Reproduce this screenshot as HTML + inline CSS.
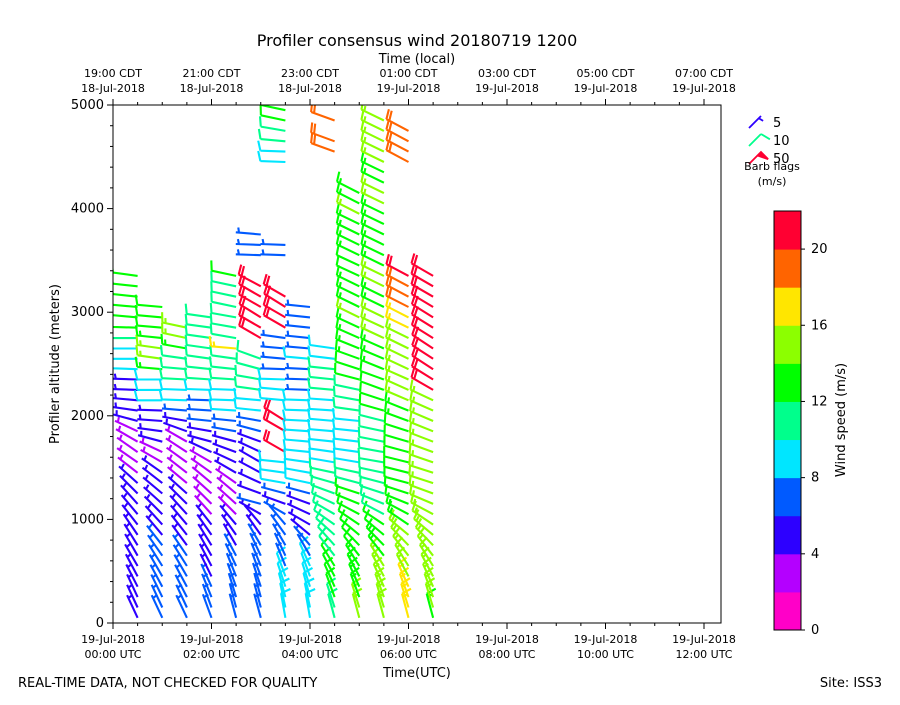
<!DOCTYPE html>
<html><head><meta charset="utf-8">
<style>
body{margin:0;background:#fff;}
svg text{font-family:"DejaVu Sans","Liberation Sans",sans-serif;fill:#000;}
</style></head>
<body>
<svg id="chart" width="900" height="700" viewBox="0 0 900 700" xmlns="http://www.w3.org/2000/svg">
<defs><clipPath id="plotclip"><rect x="113" y="105" width="608" height="518"/></clipPath></defs>
<rect width="900" height="700" fill="#fff"/>
<text x="417" y="46" font-size="16" text-anchor="middle">Profiler consensus wind 20180719 1200</text>
<text x="417" y="63" font-size="13" text-anchor="middle">Time (local)</text>
<text x="417" y="677" font-size="13" text-anchor="middle">Time(UTC)</text>
<text x="0" y="0" font-size="13" text-anchor="middle" transform="translate(59,364) rotate(-90)">Profiler altitude (meters)</text>
<text x="18" y="687" font-size="13">REAL-TIME DATA, NOT CHECKED FOR QUALITY</text>
<text x="882" y="687" font-size="13" text-anchor="end">Site: ISS3</text>
<g id="barbs" clip-path="url(#plotclip)"></g>
<rect x="113" y="105" width="608" height="518" fill="none" stroke="#000" stroke-width="1"/>
<g id="axes"></g>
<g id="cbar"></g>
<g id="legend"></g>
<text x="772" y="170" font-size="11" text-anchor="middle">Barb flags</text>
<text x="772" y="185" font-size="11" text-anchor="middle">(m/s)</text>
<text x="0" y="0" font-size="13" text-anchor="middle" transform="translate(845,420) rotate(-90)">Wind speed (m/s)</text>
</svg>
<script>
const N = null;
// sample times (hours UTC) of each profile column
const times = [0.5,1.0,1.5,2.0,2.5,3.0,3.5,4.0,4.5,5.0,5.5,6.0,6.5];
// gate altitudes: gateBase + 100 m * index
const gateBase = 50;
const gateStep = 100;
const speeds = [
 [5,5,5,5,5,5,5,5,5,5,5,5,5,5,3,3,3,3,3,5,5,5,5,5,9,9,9,10,12,12,12,12,12,12],
 [6,6,6,6,6,6,6,6,5,5,5,5,4,4,4,3,3,5,5,5,5,8,9,9,13,14,14,13,12,12,12],
 [7,7,7,6,6,6,6,5,5,5,5,4,4,3,3,3,3,3,5,5,6,8,9,10,11,11,13,14,14],
 [6,6,6,6,5,5,5,5,4,4,3,3,3,3,3,3,4,5,5,6,6,7,9,10,10,11,11,11,11,11],
 [7,7,7,6,6,6,6,5,5,4,3,3,3,3,4,5,5,5,6,6,8,9,9,10,10,11,17,11,11,11,11,11,11,12],
 [7,7,7,7,6,6,6,6,5,5,5,6,5,4,4,4,5,5,6,6,8,9,10,10,11,11,N,20,20,21,20,20,20,N,N,6,6,6],
 [8,8,8,8,8,7,7,7,6,6,6,5,6,8,9,9,20,N,20,20,N,9,9,8,7,6,6,6,20,21,20,20,N,N,N,6,6,N,N,N,N,N,N,N,9,8,10,11,12,12],
 [9,9,9,9,9,8,7,6,5,4,4,5,7,8,9,9,9,9,9,9,8,8,7,7,7,8,7,6,6,6,6],
 [11,11,12,12,12,12,11,11,11,10,10,11,11,10,10,9,9,9,9,9,9,9,10,10,10,9,9,N,N,N,N,N,N,N,N,N,N,N,N,N,N,N,N,N,N,18,18,N,18],
 [14,14,13,13,13,13,12,12,12,12,12,12,12,11,10,9,9,9,9,9,10,10,11,12,12,13,13,13,13,14,13,13,13,12,12,13,13,13,13,14,13,13],
 [15,15,15,14,14,14,13,13,12,12,11,11,10,10,10,10,10,11,11,11,12,12,12,12,13,13,13,14,14,14,13,13,14,14,13,13,13,13,13,13,14,14,13,13,14,14,15,15,15],
 [16,17,17,16,15,15,15,14,14,13,13,12,12,12,12,12,12,12,12,13,13,14,14,14,15,15,15,15,17,17,18,18,19,20,N,N,N,N,N,N,N,N,N,N,19,19,19,19],
 [13,14,15,15,15,15,14,14,14,14,14,14,14,14,15,15,15,15,14,14,15,15,20,20,21,20,21,20,21,20,20,21,21,20]
];
const dirs = [
 [335,335,335,333,332,330,330,328,326,322,320,318,315,312,308,305,305,300,295,285,278,275,272,272,272,270,270,270,272,275,275,276,276,278],
 [335,335,334,332,330,328,325,322,320,318,315,312,310,308,305,300,295,285,278,274,272,270,270,270,275,278,278,276,275,275,275],
 [335,335,333,332,330,328,326,324,322,320,318,315,312,310,308,306,303,300,290,280,275,272,272,273,275,278,280,282,282],
 [340,340,338,336,334,332,330,328,325,322,318,315,312,310,305,300,295,285,280,276,274,272,272,274,276,278,278,278,278,278],
 [345,345,343,340,338,335,332,330,325,320,315,312,310,305,300,295,290,285,280,276,274,272,272,274,276,278,275,280,280,280,282,282,282,282],
 [345,345,345,342,340,338,335,330,325,320,300,285,290,295,298,300,295,290,285,280,276,275,278,280,285,290,N,300,300,302,300,300,298,N,N,272,272,275],
 [350,348,345,342,340,338,335,330,325,320,300,290,285,280,278,276,300,N,300,302,N,275,275,272,272,275,275,278,300,300,302,300,N,N,N,272,272,N,N,N,N,N,N,N,272,272,275,280,282,282],
 [350,348,345,342,340,336,330,320,310,300,295,290,285,282,280,278,276,275,274,273,272,272,272,272,273,275,275,276,276,276,276],
 [345,342,340,336,332,328,322,318,312,305,300,295,290,286,282,280,278,276,275,275,274,274,275,276,276,277,278,N,N,N,N,N,N,N,N,N,N,N,N,N,N,N,N,N,N,290,290,N,290],
 [345,343,340,336,332,328,322,316,310,304,298,292,288,285,282,280,278,277,276,276,278,280,282,285,288,290,292,294,295,296,296,296,296,295,295,296,296,296,296,297,297,297],
 [345,343,340,336,332,328,322,316,310,304,298,292,288,285,282,280,280,281,282,284,286,288,290,290,292,293,294,295,295,296,296,296,296,296,296,296,296,296,296,296,296,296,296,296,296,296,296,296,296],
 [345,343,340,336,332,328,322,316,310,304,298,292,288,285,284,284,285,286,288,290,292,293,294,294,295,296,296,296,296,297,297,298,298,298,N,N,N,N,N,N,N,N,N,N,298,298,298,298],
 [345,343,340,336,332,328,322,316,310,304,298,293,290,288,288,289,290,291,292,293,294,295,300,302,303,303,303,302,302,302,301,300,300,300]
];
const xTickLabelsUTC = ["00:00 UTC","02:00 UTC","04:00 UTC","06:00 UTC","08:00 UTC","10:00 UTC","12:00 UTC"];
const xTickLabelsLocal = ["19:00 CDT","21:00 CDT","23:00 CDT","01:00 CDT","03:00 CDT","05:00 CDT","07:00 CDT"];
const xTickDatesLocal = ["18-Jul-2018","18-Jul-2018","18-Jul-2018","19-Jul-2018","19-Jul-2018","19-Jul-2018","19-Jul-2018"];
const yTicks = [0,1000,2000,3000,4000,5000];
const cbarColors = ["#ff00c8","#b400ff","#2d00ff","#005aff","#00e6ff","#00ff8c","#00ff00","#8cff00","#ffe600","#ff6400","#ff0032"];
const cbarTicks = [0,4,8,12,16,20];
const legendSpeeds = [5,10,50];

const NS = "http://www.w3.org/2000/svg";
const X0=113, X1=721, Y0=623, Y1=105;
const xScale = h => X0 + h*49.25;
const yScale = a => Y0 - (a/5000)*(Y0-Y1);
const cTop = 211, cBot = 630;
const cScale = v => cBot - (v/22)*(cBot-cTop);
function colorFor(s){ let i=Math.floor(s/2); if(i<0)i=0; if(i>10)i=10; return cbarColors[i]; }
function el(tag, attrs, parent){ const e=document.createElementNS(NS,tag); for(const k in attrs) e.setAttribute(k,attrs[k]); parent.appendChild(e); return e; }

function barbPath(bx, by, spd, dir, L){
  const r = dir*Math.PI/180;
  const ux = Math.sin(r), uy = -Math.cos(r);
  const px = -uy, py = ux;
  const tx = bx+ux*L, ty = by+uy*L;
  let d = `M${bx.toFixed(1)},${by.toFixed(1)}L${tx.toFixed(1)},${ty.toFixed(1)}`;
  let rem = Math.round(spd/5)*5;
  let pos = 0; const sp = 3.2, H = 10;
  while(rem>=50){ const ax=tx-ux*pos, ay=ty-uy*pos; const bx2=tx-ux*(pos+5), by2=ty-uy*(pos+5);
    d+=`M${ax.toFixed(1)},${ay.toFixed(1)}L${(ax+px*H).toFixed(1)},${(ay+py*H).toFixed(1)}L${bx2.toFixed(1)},${by2.toFixed(1)}Z`; pos+=6; rem-=50; }
  while(rem>=10){ const ax=tx-ux*pos, ay=ty-uy*pos;
    d+=`M${ax.toFixed(1)},${ay.toFixed(1)}L${(ax+px*H+ux*2.5).toFixed(1)},${(ay+py*H+uy*2.5).toFixed(1)}`; pos+=sp; rem-=10; }
  if(rem>=5){ if(pos===0) pos=sp; const ax=tx-ux*pos, ay=ty-uy*pos;
    d+=`M${ax.toFixed(1)},${ay.toFixed(1)}L${(ax+px*H/2+ux*1.2).toFixed(1)},${(ay+py*H/2+uy*1.2).toFixed(1)}`; }
  return d;
}

const barbG = document.getElementById('barbs');
times.forEach((t,ci)=>{
  const g = el('g',{},barbG);
  
  
  speeds[ci].forEach((s,gi)=>{
    const dd = dirs[ci][gi];
    if(s===null || dd===null || dd===undefined) return;
    const p = el('path',{d:barbPath(xScale(t), yScale(gateBase+gi*gateStep), s, dd, 25), stroke:colorFor(s), fill:colorFor(s), 'stroke-width':2.1, 'stroke-linejoin':'miter'}, g);
    
    
  });
});

const ax = document.getElementById('axes');
for(let k=0;k<=24;k++){
  const h=k*0.5, x=xScale(h); if(x>X1+0.5) break;
  const major = (k%4===0);
  const len = major?6:3;
  el('line',{x1:x,y1:Y0,x2:x,y2:Y0+len,stroke:'#000','stroke-width':1},ax);
  el('line',{x1:x,y1:Y1,x2:x,y2:Y1-len,stroke:'#000','stroke-width':1},ax);
}
xTickLabelsUTC.forEach((lab,i)=>{
  const x=xScale(i*2);
  const t1=el('text',{x:x,y:643,'font-size':11,'text-anchor':'middle'},ax); t1.textContent='19-Jul-2018';
   
  const t2=el('text',{x:x,y:658,'font-size':11,'text-anchor':'middle'},ax); t2.textContent=lab;
   
  const t3=el('text',{x:x,y:77,'font-size':11,'text-anchor':'middle'},ax); t3.textContent=xTickLabelsLocal[i];
   
  const t4=el('text',{x:x,y:92,'font-size':11,'text-anchor':'middle'},ax); t4.textContent=xTickDatesLocal[i];
   
});
for(let a=0;a<=5000;a+=200){
  const y=yScale(a), major=(a%1000===0);
  el('line',{x1:X0,y1:y,x2:X0-(major?6:3),y2:y,stroke:'#000','stroke-width':1},ax);
}
yTicks.forEach(v=>{
  const t=el('text',{x:X0-9,y:yScale(v)+4,'font-size':13,'text-anchor':'end'},ax); t.textContent=v;
   
});

const cb = document.getElementById('cbar');
cbarColors.forEach((c,i)=>{
  const r=el('rect',{x:774,y:cScale((i+1)*2),width:27,height:cScale(i*2)-cScale((i+1)*2)+0.5,fill:c},cb);
   
});
el('rect',{x:774,y:cTop,width:27,height:cBot-cTop,fill:'none',stroke:'#000','stroke-width':1},cb);
cbarTicks.forEach(v=>{
  const y=cScale(v);
  el('line',{x1:801,y1:y,x2:805,y2:y,stroke:'#000','stroke-width':1},cb);
  const t=el('text',{x:811,y:y+4,'font-size':13},cb); t.textContent=v;
   
});

const lg = document.getElementById('legend');
legendSpeeds.forEach((s,i)=>{
  const y=128+i*18;
  const col = s===5?'#2d00ff':(s===10?'#00ff8c':'#ff0032');
  const p=el('path',{d:barbPath(749,y,s,45,17),stroke:col,fill:col,'stroke-width':1.8},lg);
   
  const t=el('text',{x:773,y:y-1,'font-size':13},lg); t.textContent=s;
   
});
</script>
</body></html>
